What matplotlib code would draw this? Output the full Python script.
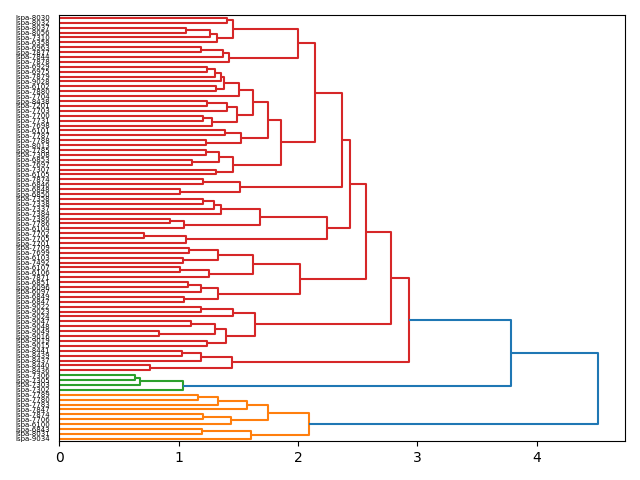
import matplotlib
matplotlib.use("Agg")
import matplotlib.pyplot as plt
from matplotlib.collections import LineCollection

# leaf labels, top to bottom
leaf_ids = [
    "8030", "8032", "8037", "8056", "7310", "6358", "6963", "7877", "7844", "7878",
    "6929", "6975", "7879", "9028", "6102", "7880", "7704", "8438", "7201", "7703",
    "7700", "7731",
    "7698", "6101", "7787", "7788", "8013", "7785", "7308", "6853", "7697", "7307",
    "6105", "7874", "6846", "6848", "6850", "7358", "7338", "7337", "7384", "7386",
    "7786", "6104", "7702", "7705", "7701", "7709", "7699", "6103", "7492", "6107",
    "6106", "7871", "6851", "6096", "6097", "6849", "6847", "9022", "9023", "9024",
    "9047",
    "9048", "9049", "9016", "9019", "9015", "8441", "8439", "8437", "8440", "8436",
    "7306", "7305", "7303", "7302",
    "7789", "7780", "7783", "7847", "7874", "7706", "6100", "6843", "8031", "9034",
]
leaf_labels = ["lspa-" + s for s in leaf_ids]

# merges (linkage style): child a, child b, height; ids >= n point to earlier merges
merge_a = [0, 2, 88, 89, 87, 6, 92, 93, 91, 10, 96, 97, 14, 98, 100, 17, 102, 20, 104, 103,
           101, 23, 25, 108, 107, 27, 29, 112, 31, 114, 111, 95, 33, 35, 119, 118, 37, 123, 124, 41,
           126, 125, 44, 129, 128, 122, 47, 49, 133, 51, 136, 135, 54, 139, 57, 140, 138, 132, 59, 145,
           62, 64, 147, 66, 149, 146, 144, 68, 154, 71, 155, 153, 73, 159, 160, 158, 77, 163, 164, 81,
           166, 165, 84, 169, 168, 162]
merge_b = [1, 3, 4, 5, 90, 7, 8, 9, 94, 11, 12, 13, 15, 99, 16, 18, 19, 21, 22, 105,
           106, 24, 26, 109, 110, 28, 30, 113, 32, 115, 116, 117, 34, 36, 120, 121, 38, 39, 40, 42,
           43, 127, 45, 46, 130, 131, 48, 50, 134, 52, 53, 137, 55, 56, 58, 141, 142, 143, 60, 61,
           63, 65, 148, 67, 150, 151, 152, 69, 70, 72, 156, 157, 74, 75, 76, 161, 78, 79, 80, 82,
           83, 167, 85, 86, 170, 171]
merge_h = [1.404, 1.060, 1.259, 1.320, 1.452, 1.183, 1.371, 1.418, 1.997, 1.234,
           1.303, 1.354, 1.312, 1.382, 1.505, 1.234, 1.404, 1.200, 1.278, 1.491,
           1.622, 1.385, 1.225, 1.522, 1.748, 1.225, 1.108, 1.340, 1.312, 1.452,
           1.857, 2.140, 1.200, 1.007, 1.510, 2.372, 1.200, 1.295, 1.354, 0.923,
           1.040, 1.678, 0.705, 1.057, 2.243, 2.435, 1.083, 1.032, 1.331, 1.007,
           1.250, 1.622, 1.074, 1.183, 1.046, 1.331, 2.014, 2.567, 1.183, 1.455,
           1.099, 0.834, 1.303, 1.234, 1.393, 1.642, 2.780, 1.027, 1.189, 0.761,
           1.446, 2.930, 0.635, 0.671, 1.032, 3.782, 1.158, 1.326, 1.572, 1.200,
           1.438, 1.745, 1.194, 1.606, 2.090, 4.515]

n = len(leaf_labels)
threshold = 0.7 * max(merge_h)

# positions: leaf i (top down) at y = 10*(n-1-i)+5
pos_y = {i: 10 * (n - 1 - i) + 5 for i in range(n)}
pos_h = {i: 0.0 for i in range(n)}
for k, (a, b, h) in enumerate(zip(merge_a, merge_b, merge_h)):
    pos_y[n + k] = (pos_y[a] + pos_y[b]) / 2
    pos_h[n + k] = h

# cluster colour per node: below threshold nodes inherit cluster root
parent = {}
for k, (a, b) in enumerate(zip(merge_a, merge_b)):
    parent[a] = n + k
    parent[b] = n + k

cluster_roots = [n + k for k, h in enumerate(merge_h)
                 if h <= threshold and merge_h[parent[n + k] - n] > threshold]
cluster_roots.sort(key=lambda c: pos_y[c])
palette = ["C1", "C2", "C3", "C4", "C5"]
root_color = {c: palette[i] for i, c in enumerate(cluster_roots)}


def node_color(node):
    x = node
    while x in parent:
        if x in root_color:
            return root_color[x]
        x = parent[x]
    return root_color.get(x, "C0")


segs, cols = [], []
for k, (a, b, h) in enumerate(zip(merge_a, merge_b, merge_h)):
    node = n + k
    c = "C0" if h > threshold else node_color(node)
    segs.append([(pos_h[a], pos_y[a]), (h, pos_y[a]), (h, pos_y[b]), (pos_h[b], pos_y[b])])
    cols.append(c)

fig, ax = plt.subplots(figsize=(6.4, 4.8), dpi=100)
ax.add_collection(LineCollection(segs, colors=cols, linewidths=1.5))
ax.set_xlim(0, max(merge_h) * 1.05)
ax.set_ylim(0, 10 * n)
ax.set_yticks([10 * (n - 1 - i) + 5 for i in range(n)])
ax.set_yticklabels(leaf_labels, size=5)
for line in ax.get_yticklines():
    line.set_visible(False)
plt.tight_layout()
plt.savefig("out.png")
